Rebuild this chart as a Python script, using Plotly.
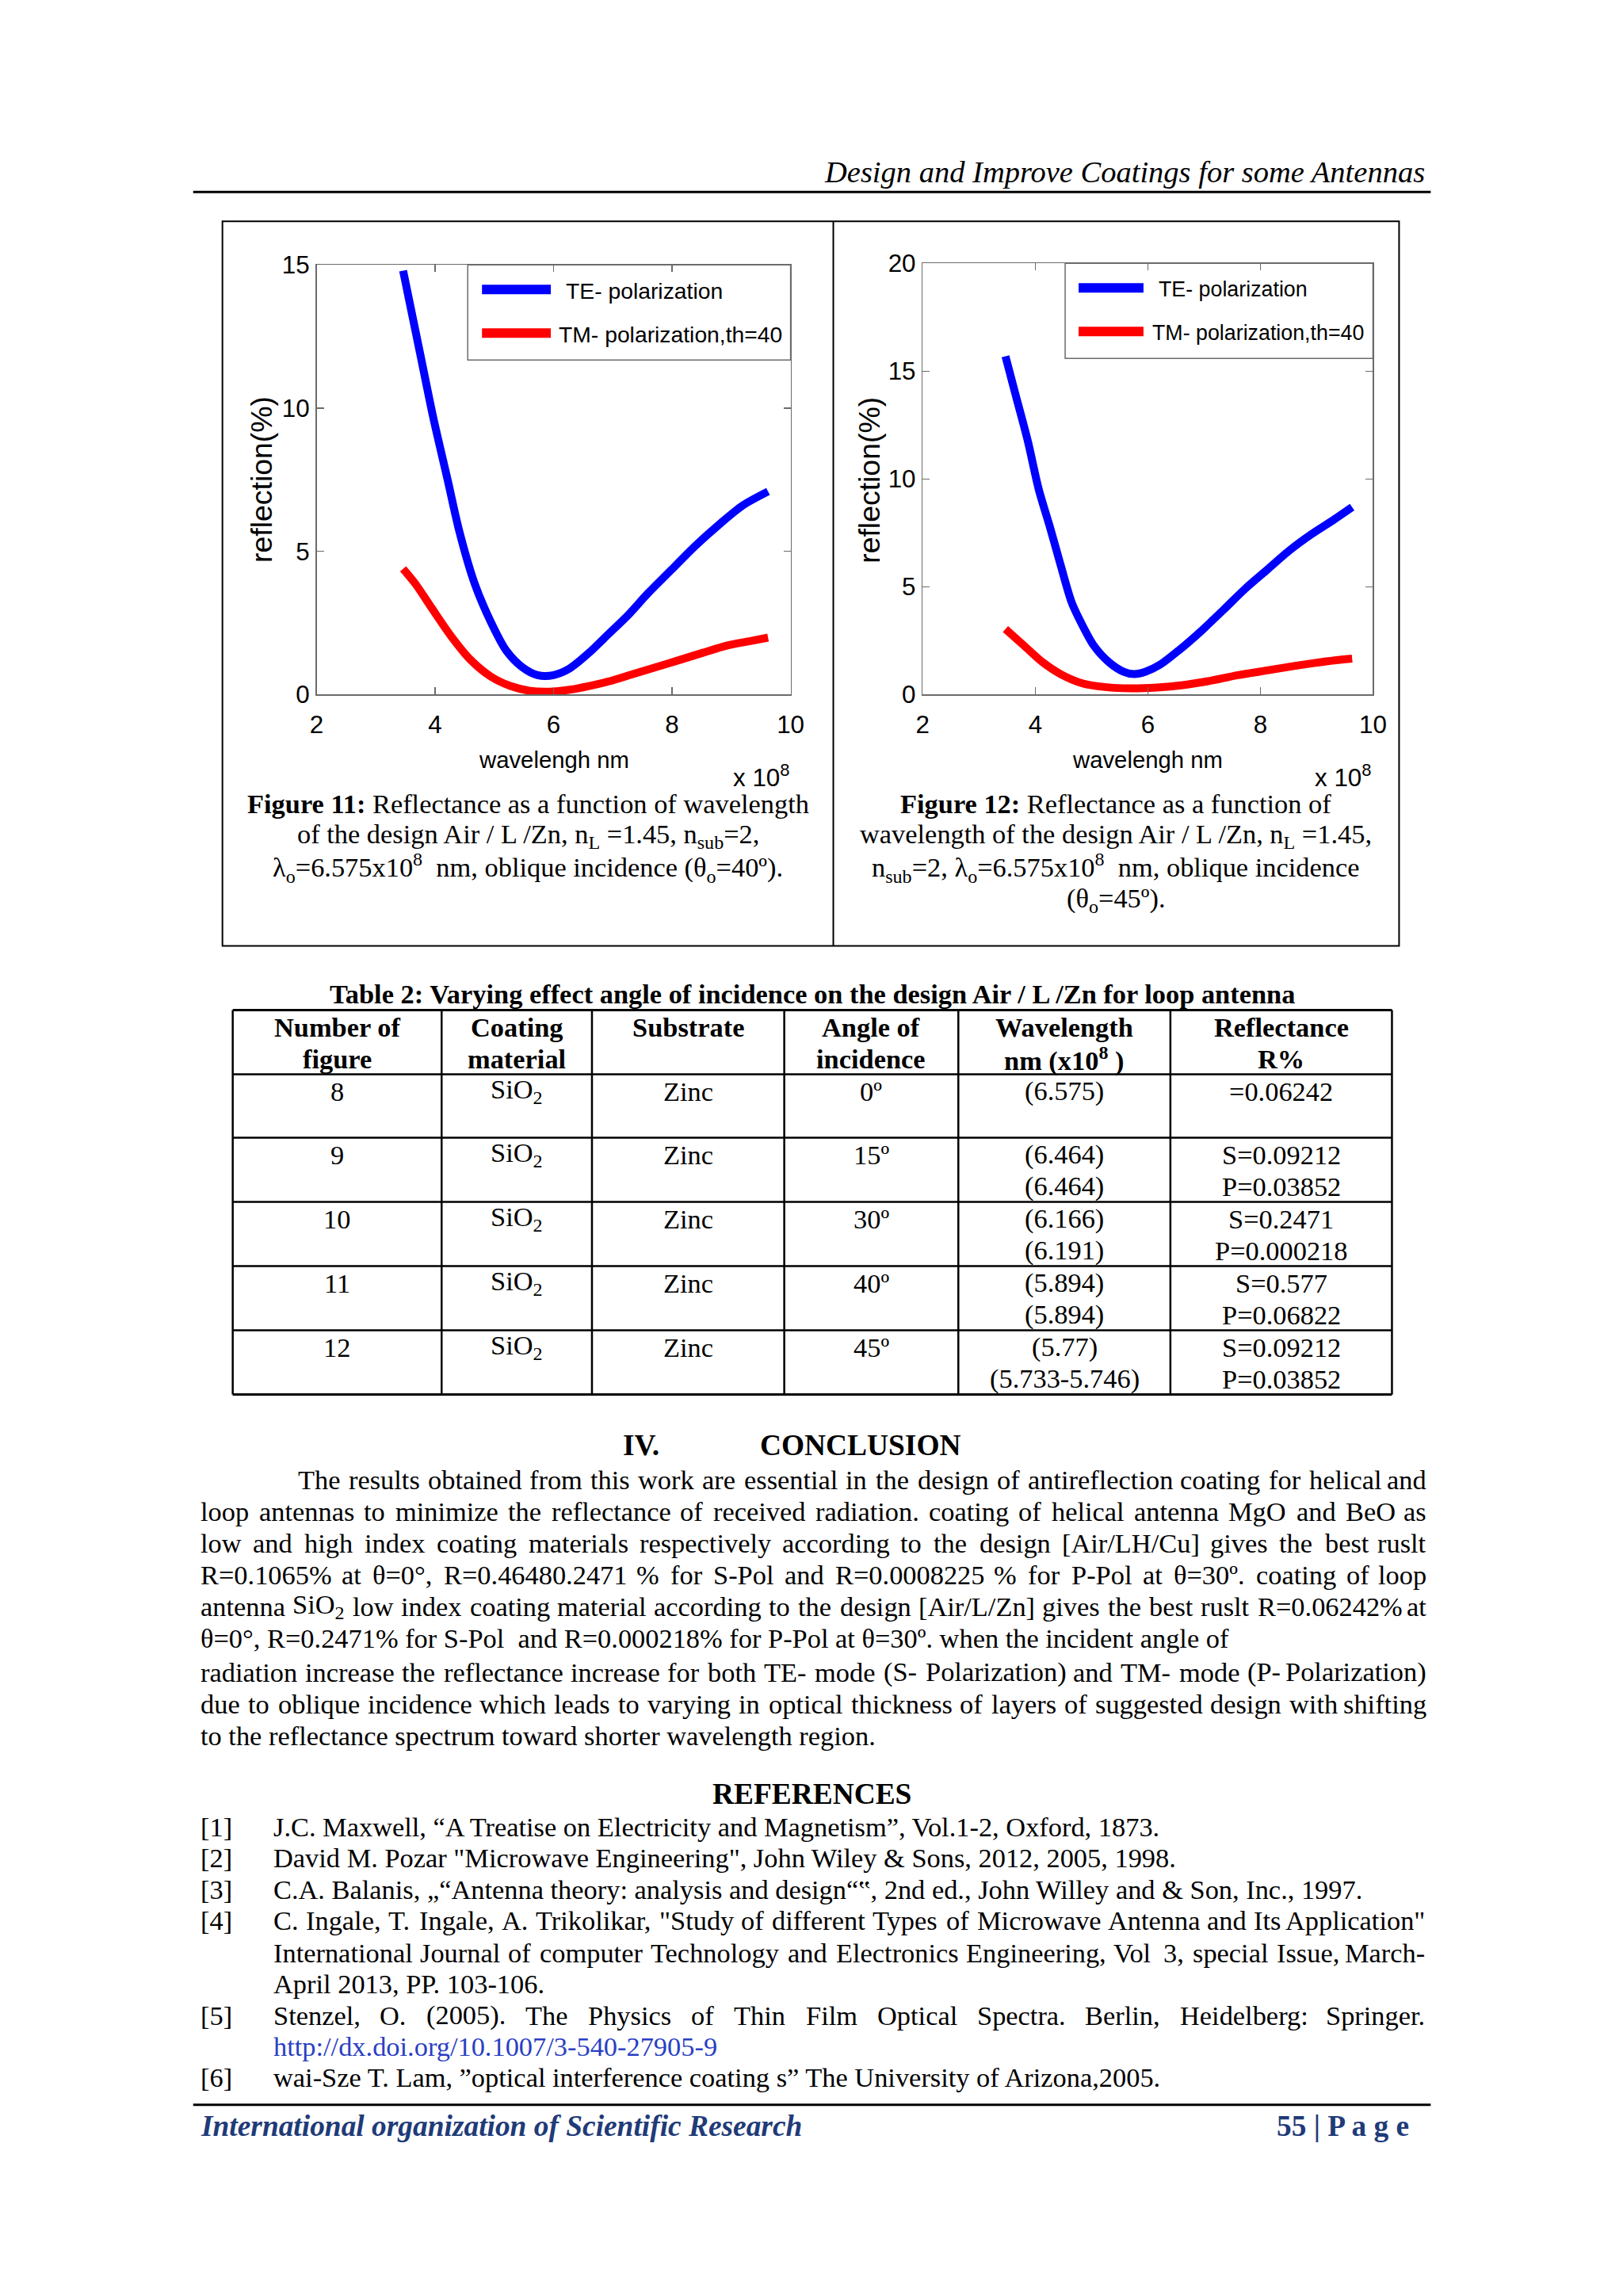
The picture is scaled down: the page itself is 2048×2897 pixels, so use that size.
import re
import plotly.graph_objects as go

W, H = 2048, 2897
SERIF = "Liberation Serif, Times New Roman, serif"
SANS = "Liberation Sans, Arial, sans-serif"

# the page photo comes out slightly scaled/offset; positions are given in target pixels
SX, OX = 0.9888, 6.9
SY, OY = 0.9877, 17.8
FS = 1.0 / ((SX + SY) / 2)

def px(x):
    return ((x - OX) / SX) / W

def py(y):
    return 1 - ((y - OY) / SY) / H

# ---------------- data: Figure 11 (theta = 40 deg) ----------------
wl_te_11 = [3.46, 3.74, 3.97, 4.21, 4.41, 4.67, 4.94, 5.20, 5.47, 5.73, 6.00, 6.27,
            6.60, 6.93, 7.26, 7.59, 7.99, 8.39, 8.79, 9.19, 9.62]
te_11 = [14.8, 11.98, 9.66, 7.51, 5.69, 3.86, 2.54, 1.54, 0.96, 0.68, 0.68, 0.91,
         1.46, 2.12, 2.78, 3.53, 4.36, 5.19, 5.93, 6.60, 7.09]
wl_tm_11 = [3.46, 3.67, 3.94, 4.27, 4.60, 4.94, 5.27, 5.60, 5.93, 6.27, 6.60, 6.93,
            7.33, 7.73, 8.13, 8.52, 8.92, 9.32, 9.62]
tm_11 = [4.39, 3.86, 3.03, 2.04, 1.21, 0.63, 0.30, 0.13, 0.10, 0.17, 0.30, 0.46,
         0.71, 0.96, 1.21, 1.46, 1.71, 1.87, 1.99]

# ---------------- data: Figure 12 (theta = 45 deg) ----------------
wl_te_12 = [3.47, 3.67, 3.87, 4.06, 4.26, 4.45, 4.65, 4.85, 5.04, 5.31, 5.57, 5.76,
            5.96, 6.22, 6.55, 6.94, 7.34, 7.73, 8.12, 8.51, 8.91, 9.30, 9.63]
te_12 = [15.69, 13.71, 11.73, 9.53, 7.77, 6.01, 4.25, 3.15, 2.27, 1.50, 1.06, 0.95,
         1.06, 1.39, 2.05, 2.93, 3.92, 4.91, 5.79, 6.67, 7.44, 8.10, 8.69]
wl_tm_12 = [3.47, 3.80, 4.13, 4.45, 4.85, 5.24, 5.70, 6.16, 6.62, 7.07, 7.60, 8.12,
            8.64, 9.17, 9.63]
tm_12 = [3.04, 2.27, 1.50, 0.95, 0.51, 0.35, 0.29, 0.33, 0.44, 0.62, 0.90, 1.12,
         1.34, 1.54, 1.67]

series_names = ["TE- polarization", "TM- polarization,th=40"]
x_ticks = [2, 4, 6, 8, 10]
y_ticks_11 = [0, 5, 10, 15]
y_ticks_12 = [0, 5, 10, 15, 20]

# ---------------- data: Table 2 ----------------
table_title = "Table 2: Varying effect angle of incidence on the design Air / L /Zn for loop antenna"
col_headers = [["Number of", "figure"], ["Coating", "material"], ["Substrate"],
               ["Angle of", "incidence"], ["Wavelength", "nm (x10<sup>8</sup> )"],
               ["Reflectance", "R%"]]
fig_numbers = ["8", "9", "10", "11", "12"]
coating = ["SiO<sub>2</sub>"] * 5
substrate = ["Zinc"] * 5
angles = ["0º", "15º", "30º", "40º", "45º"]
wavelengths = [["(6.575)"], ["(6.464)", "(6.464)"], ["(6.166)", "(6.191)"],
               ["(5.894)", "(5.894)"], ["(5.77)", "(5.733-5.746)"]]
reflectance = [["=0.06242"], ["S=0.09212", "P=0.03852"], ["S=0.2471", "P=0.000218"],
               ["S=0.577", "P=0.06822"], ["S=0.09212", "P=0.03852"]]

# (text, justified?)
conclusion_lines = [
    ("The results obtained from this work are essential in the design of antireflection coating for helical and", True),
    ("loop antennas  to minimize the reflectance of received radiation. coating of helical antenna MgO and BeO  as", True),
    ("low and high index coating materials respectively according to the design [Air/LH/Cu] gives the best ruslt", True),
    ("R=0.1065% at θ=0°, R=0.46480.2471 % for S-Pol and R=0.0008225 % for P-Pol at θ=30º. coating of loop", True),
    ("antenna SiO<sub>2</sub>  low index coating material according to the design [Air/L/Zn] gives the best ruslt R=0.06242% at", True),
    ("θ=0°, R=0.2471% for S-Pol  and R=0.000218% for P-Pol at θ=30º. when the incident angle of", False),
    ("radiation increase the reflectance increase for both TE- mode (S- Polarization) and TM- mode (P- Polarization)", True),
    ("due to oblique incidence which leads to varying in optical thickness of layers of suggested design with shifting", True),
    ("to the reflectance spectrum toward shorter wavelength region.", False),
]

references = [
    ("[1]", [("J.C. Maxwell, “A Treatise on Electricity and Magnetism”, Vol.1-2, Oxford, 1873.", False)]),
    ("[2]", [("David M. Pozar \"Microwave Engineering\", John Wiley & Sons, 2012, 2005, 1998.", False)]),
    ("[3]", [("C.A. Balanis, „“Antenna theory: analysis and design“‟, 2nd ed., John Willey and & Son, Inc., 1997.", False)]),
    ("[4]", [("C. Ingale, T. Ingale, A. Trikolikar, \"Study of different Types of Microwave Antenna and Its Application\"", True),
             ("International Journal of computer Technology and Electronics Engineering, Vol 3, special Issue, March-", True),
             ("April 2013, PP. 103-106.", False)]),
    ("[5]", [("Stenzel, O. (2005). The Physics of Thin Film Optical Spectra. Berlin, Heidelberg: Springer.", True),
             ("<span style='color:#2a3fc4'>http://dx.doi.org/10.1007/3-540-27905-9</span>", False)]),
    ("[6]", [("wai-Sze T. Lam, ”optical interference coating s” The University of Arizona,2005.", False)]),
]

# Times / Liberation Serif advance widths (1/1000 em)
TIMES = {' ': 250, '!': 333, '"': 408, '#': 500, '$': 500, '%': 833, '&': 778, "'": 180,
         '(': 333, ')': 333, '*': 500, '+': 564, ',': 250, '-': 333, '.': 250, '/': 278,
         ':': 278, ';': 278, '<': 564, '=': 564, '>': 564, '?': 444, '@': 921,
         'A': 722, 'B': 667, 'C': 667, 'D': 722, 'E': 611, 'F': 556, 'G': 722, 'H': 722,
         'I': 333, 'J': 389, 'K': 722, 'L': 611, 'M': 889, 'N': 722, 'O': 722, 'P': 556,
         'Q': 722, 'R': 667, 'S': 556, 'T': 611, 'U': 722, 'V': 722, 'W': 944, 'X': 722,
         'Y': 722, 'Z': 611, '[': 333, '\\': 278, ']': 333, '_': 500,
         'a': 444, 'b': 500, 'c': 444, 'd': 500, 'e': 444, 'f': 333, 'g': 500, 'h': 500,
         'i': 278, 'j': 278, 'k': 500, 'l': 278, 'm': 778, 'n': 500, 'o': 500, 'p': 500,
         'q': 500, 'r': 333, 's': 389, 't': 278, 'u': 500, 'v': 500, 'w': 722, 'x': 500,
         'y': 500, 'z': 444, 'θ': 500, '°': 400, 'º': 310, '“': 444, '”': 444, '„': 444,
         '‟': 444}
for d in "0123456789":
    TIMES[d] = 500

def text_width(s, size):
    total = 0.0
    for part in re.split(r"(<sub>.*?</sub>|<sup>.*?</sup>)", s):
        scale = 1.0
        if part.startswith("<sub>") or part.startswith("<sup>"):
            scale = 0.7
        plain = re.sub(r"<[^>]+>", "", part)
        total += scale * sum(TIMES.get(ch, 500) for ch in plain)
    return total / 1000.0 * size

# ---------------- figure ----------------
fig = go.Figure()
BLUE = "#0000ff"
RED = "#ff0000"
LW = 10

for xs, ys, nm, col, xa, ya in ((wl_te_11, te_11, series_names[0], BLUE, "x", "y"),
                                (wl_tm_11, tm_11, series_names[1], RED, "x", "y"),
                                (wl_te_12, te_12, series_names[0], BLUE, "x2", "y2"),
                                (wl_tm_12, tm_12, series_names[1], RED, "x2", "y2")):
    fig.add_trace(go.Scatter(x=xs, y=ys, mode="lines", name=nm,
                             line=dict(color=col, width=LW, shape="spline", smoothing=0.8),
                             xaxis=xa, yaxis=ya, showlegend=False, hoverinfo="skip"))

AX_COL = "#6b6b6b"
axis_common = dict(showline=True, linecolor=AX_COL, linewidth=1.5, mirror="ticks",
                   ticks="inside", ticklen=9, tickcolor=AX_COL, tickwidth=1.5,
                   showgrid=False, zeroline=False, fixedrange=True,
                   tickfont=dict(family=SANS, size=round(31 * FS, 1), color="black"))

# plot-area pixel boxes
P1 = (398, 335, 997, 877)
P2 = (1164, 333, 1733, 877)

fig.update_layout(
    width=W, height=H, margin=dict(l=0, r=0, t=0, b=0),
    paper_bgcolor="white", plot_bgcolor="white", showlegend=False,
    xaxis=dict(domain=[px(P1[0]), px(P1[2])], range=[2, 10], tickvals=x_ticks,
               anchor="y", ticklabelstandoff=9, **axis_common),
    yaxis=dict(domain=[py(P1[3]), py(P1[1])], range=[0, 15], tickvals=y_ticks_11,
               anchor="x", ticklabelstandoff=1, **axis_common),
    xaxis2=dict(domain=[px(P2[0]), px(P2[2])], range=[2, 10], tickvals=x_ticks,
                anchor="y2", ticklabelstandoff=9, **axis_common),
    yaxis2=dict(domain=[py(P2[3]), py(P2[1])], range=[0, 20], tickvals=y_ticks_12,
                anchor="x2", ticklabelstandoff=1, **axis_common),
)

shapes = []
annotations = []

def line(x0, y0, x1, y1, color="black", width=2):
    shapes.append(dict(type="line", xref="paper", yref="paper",
                       x0=px(x0), y0=py(y0), x1=px(x1), y1=py(y1),
                       line=dict(color=color, width=width)))

def rect(x0, y0, x1, y1, color="black", width=2):
    shapes.append(dict(type="rect", xref="paper", yref="paper",
                       x0=px(x0), y0=py(y0), x1=px(x1), y1=py(y1),
                       line=dict(color=color, width=width), fillcolor="rgba(0,0,0,0)"))

def txt(x, y, s, size=34, anchor="left", family=SERIF, color="black", angle=0, yanchor="middle"):
    annotations.append(dict(x=px(x), y=py(y), xref="paper", yref="paper", text=s,
                            showarrow=False, xanchor=anchor, yanchor=yanchor,
                            textangle=angle, borderpad=0,
                            font=dict(family=family, size=round(size * FS, 1), color=color)))

def para_line(x_left, x_right, y, s, justified, size=34):
    if not justified:
        txt(x_left, y, s, size=size)
        return
    words = s.split()
    widths = [text_width(w, size) for w in words]
    gap = (x_right - x_left - sum(widths)) / (len(words) - 1)
    xpos = x_left
    for i, w in enumerate(words):
        if i == len(words) - 1:
            txt(x_right, y, w, size=size, anchor="right")
        else:
            txt(xpos, y, w, size=size)
        xpos += widths[i] + gap

# header
txt(1800, 218, "<i>Design and Improve Coatings for some Antennas</i>", size=38, anchor="right")
line(242, 243, 1806, 243, width=3)

# figure frame
rect(279, 280, 1766, 1194, width=2)
line(1051, 280, 1051, 1194, width=2)

# chart labels
for (p, ycx) in ((P1, 329), (P2, 1097)):
    cx = (p[0] + p[2]) / 2
    txt(cx, 959, "wavelengh nm", size=29, anchor="center", family=SANS)
    txt(p[2], 1001, "x 10<sup>8</sup>", size=31, anchor="right", family=SANS, yanchor="bottom")
    txt(ycx, 606, "reflection(%)", size=37, anchor="center", family=SANS, angle=-90)

# manual legends (box sharing the plot's top-right corner)
# (plot box, legend left, line start/end offsets, TE text offset, TM text offset, font size)
legend_specs = ((P1, 589, 18, 105, 123, 114, 28),
                (P2, 1344, 17, 99, 117, 109, 26.5))
for (p, box_left, s0, s1, te_off, tm_off, lfs) in legend_specs:
    top = p[1]
    rect(box_left, top, p[2], top + 120, color=AX_COL, width=1.5)
    line(box_left + s0, top + 31, box_left + s1, top + 31, color=BLUE, width=12)
    line(box_left + s0, top + 86, box_left + s1, top + 86, color=RED, width=12)
    txt(box_left + te_off, top + 33, series_names[0], size=lfs, family=SANS)
    txt(box_left + tm_off, top + 88, series_names[1], size=lfs, family=SANS)

# captions
cap1 = ["<b>Figure 11:</b> Reflectance as a function of wavelength",
        "of the design Air / L /Zn, n<sub>L</sub> =1.45, n<sub>sub</sub>=2,",
        "λ<sub>o</sub>=6.575x10<sup>8</sup>\u00a0 nm, oblique incidence (θ<sub>o</sub>=40º)."]
cap2 = ["<b>Figure 12:</b> Reflectance as a function of",
        "wavelength of the design Air / L /Zn, n<sub>L</sub> =1.45,",
        "n<sub>sub</sub>=2, λ<sub>o</sub>=6.575x10<sup>8</sup>\u00a0 nm, oblique incidence",
        "(θ<sub>o</sub>=45º)."]
cap_y = [1015, 1055, 1096, 1136]
for i, s in enumerate(cap1):
    txt(665, cap_y[i], s, size=34, anchor="center")
for i, s in enumerate(cap2):
    txt(1408, cap_y[i], s, size=34, anchor="center")

# table
txt(1024, 1255, "<b>" + table_title + "</b>", size=34, anchor="center")
col_x = [292, 556, 746, 989, 1209, 1477, 1757]
row_y = [1275, 1356, 1436, 1517, 1598, 1679, 1760]
for i, yv in enumerate(row_y):
    line(col_x[0], yv, col_x[-1], yv, width=3 if i in (0, len(row_y) - 1) else 2.5)
for xv in col_x:
    line(xv, row_y[0], xv, row_y[-1], width=2.5)
col_cx = [(col_x[i] + col_x[i + 1]) / 2 for i in range(6)]
for c, lines_ in enumerate(col_headers):
    for k, s in enumerate(lines_):
        txt(col_cx[c], row_y[0] + 22 + 40 * k, "<b>" + s + "</b>", size=34, anchor="center")
for r in range(5):
    cells = [[fig_numbers[r]], [coating[r]], [substrate[r]], [angles[r]],
             wavelengths[r], reflectance[r]]
    for c, lines_ in enumerate(cells):
        for k, s in enumerate(lines_):
            txt(col_cx[c], row_y[r + 1] + 21 + 40 * k, s, size=34, anchor="center")

# conclusion
txt(784, 1824, "<b>IV.</b>", size=37)
txt(957, 1824, "<b>CONCLUSION</b>", size=37)
body_y = [1867, 1907, 1947, 1987, 2027, 2067, 2110, 2150, 2190]
for i, (s, j) in enumerate(conclusion_lines):
    para_line(373 if i == 0 else 250, 1802, body_y[i], s, j)

# references
txt(1024, 2264, "<b>REFERENCES</b>", size=37, anchor="center")
ref_y = [2305, 2344, 2384, 2423, 2464, 2503, 2543, 2582, 2621]
k = 0
for num, lines_ in references:
    txt(250, ref_y[k], num, size=34)
    for s, j in lines_:
        para_line(342, 1800, ref_y[k], s, j)
        k += 1

# footer
line(242, 2656, 1806, 2656, width=3)
txt(250, 2683, "<b><i>International organization of Scientific Research</i></b>", size=37, color="#1f3b78")
txt(1780, 2683, "<b>55 | P a g e</b>", size=37, anchor="right", color="#1f3b78")

fig.update_layout(shapes=shapes, annotations=annotations)

fig.write_html(
    "out.html",
    config={"displayModeBar": False, "staticPlot": True},
    post_script=("document.documentElement.style.margin='0';"
                 "document.documentElement.style.overflow='hidden';"
                 "document.body.style.margin='0';"
                 "document.body.style.overflow='hidden';"),
)
